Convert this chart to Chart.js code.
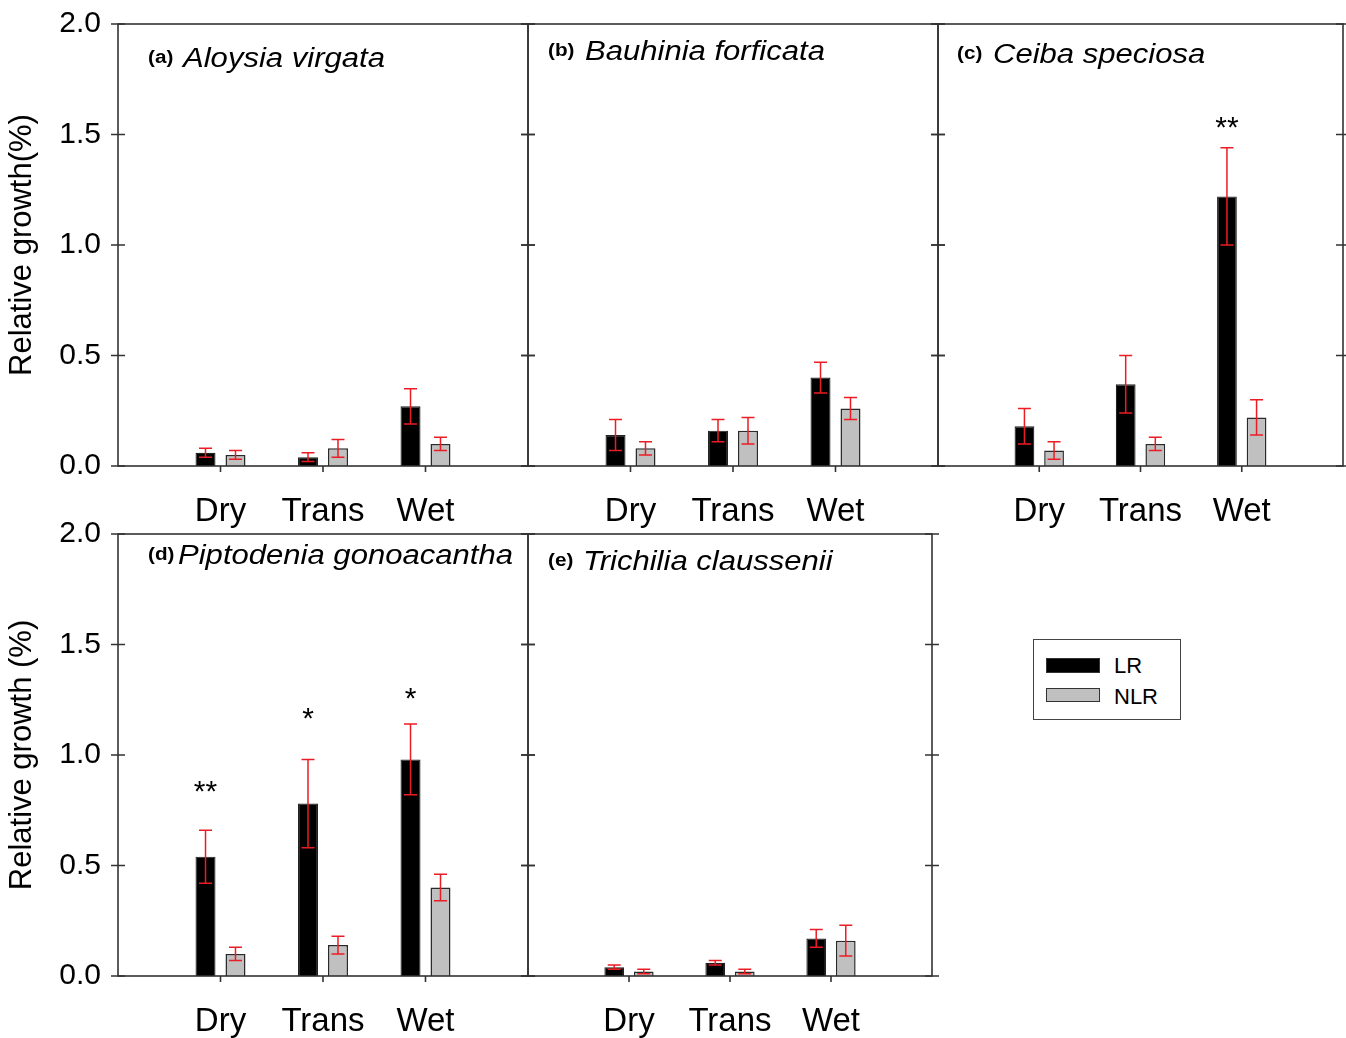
<!DOCTYPE html>
<html>
<head>
<meta charset="utf-8">
<script src="https://cdn.jsdelivr.net/npm/chart.js@4.4.0/dist/chart.umd.min.js"></script>
<style>
  html, body { margin: 0; padding: 0; background: #ffffff; }
  body { width: 1346px; height: 1038px; position: relative; overflow: hidden;
         font-family: "Liberation Sans", Arial, sans-serif; }
  canvas { position: absolute; }
  #legend { position: absolute; left: 1033px; top: 639px; width: 146px; height: 79px;
            border: 1.5px solid #444; background: #fff; }
  .sw { position: absolute; left: 12px; width: 54px; box-sizing: border-box; border: 1.2px solid #333; }
  .lt { position: absolute; left: 80px; font-size: 22px; line-height: 22px; color: #000; }
</style>
</head>
<body>
<canvas id="pa"></canvas>
<canvas id="pb"></canvas>
<canvas id="pc"></canvas>
<canvas id="pd"></canvas>
<canvas id="pe"></canvas>
<div id="legend">
  <div class="sw" style="top:18px;height:15px;background:#000;"></div>
  <div class="lt" style="top:15px;">LR</div>
  <div class="sw" style="top:48px;height:14px;background:#c0c0c0;"></div>
  <div class="lt" style="top:46px;">NLR</div>
</div>
<script>
// ---------------- DATA ----------------
const seasons = ['Dry', 'Trans', 'Wet'];
const yTickVals = [0, 0.5, 1.0, 1.5, 2.0];

// (a) Aloysia virgata
const lrA = [0.06, 0.04, 0.27];   const lrAErr = [0.02, 0.02, 0.08];
const nlrA = [0.05, 0.08, 0.10];  const nlrAErr = [0.02, 0.04, 0.03];
// (b) Bauhinia forficata
const lrB = [0.14, 0.16, 0.40];   const lrBErr = [0.07, 0.05, 0.07];
const nlrB = [0.08, 0.16, 0.26];  const nlrBErr = [0.03, 0.06, 0.05];
// (c) Ceiba speciosa
const lrC = [0.18, 0.37, 1.22];   const lrCErr = [0.08, 0.13, 0.22];
const nlrC = [0.07, 0.10, 0.22];  const nlrCErr = [0.04, 0.03, 0.08];
// (d) Piptodenia gonoacantha
const lrD = [0.54, 0.78, 0.98];   const lrDErr = [0.12, 0.20, 0.16];
const nlrD = [0.10, 0.14, 0.40];  const nlrDErr = [0.03, 0.04, 0.06];
// (e) Trichilia claussenii
const lrE = [0.04, 0.06, 0.17];   const lrEErr = [0.01, 0.01, 0.04];
const nlrE = [0.02, 0.02, 0.16];  const nlrEErr = [0.01, 0.01, 0.07];

// significance marks (text and level in data units)
const sigC = ['', '', '**'];      const sigCLevel = [null, null, 1.56];
const sigD = ['**', '*', '*'];    const sigDLevel = [0.86, 1.19, 1.28];

// ---------------- RENDERING ----------------
const FONT = '"Liberation Sans", Arial, sans-serif';
const pad = arr => [null, ...arr, null];
const xLabels = ['', ...seasons, ''];

const panelPlugin = {
  id: 'panelDeco',
  afterDatasetsDraw(chart, args, o) {
    const ctx = chart.ctx, a = chart.chartArea, y = chart.scales.y, x = chart.scales.x;
    ctx.save();
    // error bars
    chart.data.datasets.forEach((ds, i) => {
      const meta = chart.getDatasetMeta(i);
      meta.data.forEach((el, j) => {
        const v = ds.data[j];
        if (v == null) return;
        const e = ds.err[j];
        const yt = y.getPixelForValue(v + e), yb = y.getPixelForValue(Math.max(v - e, 0));
        ctx.strokeStyle = '#ec1c24';
        ctx.lineWidth = 1.5;
        ctx.beginPath();
        ctx.moveTo(el.x, yt); ctx.lineTo(el.x, yb);
        ctx.moveTo(el.x - 6.5, yt); ctx.lineTo(el.x + 6.5, yt);
        ctx.moveTo(el.x - 6.5, yb); ctx.lineTo(el.x + 6.5, yb);
        ctx.stroke();
      });
    });
    // frame
    ctx.strokeStyle = '#333';
    ctx.lineWidth = 1.6;
    ctx.strokeRect(a.left, a.top, a.right - a.left, a.bottom - a.top);
    // y ticks (crossing both edges)
    ctx.beginPath();
    yTickVals.forEach(v => {
      const py = y.getPixelForValue(v);
      ctx.moveTo(a.left - 7, py); ctx.lineTo(a.left + 7, py);
      ctx.moveTo(a.right - 7, py); ctx.lineTo(a.right + 7, py);
    });
    // x ticks at the seasons
    seasons.forEach((s, k) => {
      const px = x.getPixelForValue(k + 1);
      ctx.moveTo(px, a.bottom); ctx.lineTo(px, a.bottom + 6);
    });
    ctx.stroke();
    // significance stars
    if (o.sig) {
      const meta = chart.getDatasetMeta(0);
      ctx.fillStyle = '#000';
      ctx.font = '30px ' + FONT;
      ctx.textAlign = 'center';
      ctx.textBaseline = 'middle';
      o.sig.forEach((s, k) => {
        if (!s) return;
        const el = meta.data[k + 1];
        ctx.fillText(s, el.x, y.getPixelForValue(o.sigLevel[k]) + 7);
      });
    }
    // panel title
    const ty = a.top + o.dy;
    ctx.fillStyle = '#000';
    ctx.textAlign = 'left';
    ctx.textBaseline = 'middle';
    ctx.save();
    ctx.translate(a.left + o.dx, ty - 1);
    ctx.scale(1.15, 1);
    ctx.font = 'bold 18px ' + FONT;
    ctx.fillText(o.label, 0, 0);
    ctx.restore();
    ctx.save();
    ctx.translate(a.left + o.sdx, ty);
    ctx.scale(1.15, 1);
    ctx.font = 'italic 27px ' + FONT;
    ctx.fillText(o.species, 0, 0);
    ctx.restore();
    ctx.restore();
  }
};

function makePanel(id, cfg) {
  const cv = document.getElementById(id);
  cv.width = cfg.w; cv.height = cfg.h;
  cv.style.left = cfg.left + 'px'; cv.style.top = cfg.top + 'px';
  cv.style.width = cfg.w + 'px'; cv.style.height = cfg.h + 'px';
  return new Chart(cv, {
    type: 'bar',
    data: {
      labels: xLabels,
      datasets: [
        { label: 'LR', data: pad(cfg.lr), err: pad(cfg.lrErr),
          backgroundColor: '#000000', borderColor: '#222222', borderWidth: 1.2 },
        { label: 'NLR', data: pad(cfg.nlr), err: pad(cfg.nlrErr),
          backgroundColor: '#c0c0c0', borderColor: '#2a2a2a', borderWidth: 1.5 }
      ]
    },
    options: {
      responsive: false,
      animation: false,
      devicePixelRatio: 1,
      categoryPercentage: 0.585,
      barPercentage: 0.667,
      layout: { padding: { left: cfg.padL, right: cfg.padR, top: cfg.padT, bottom: 0 } },
      plugins: {
        legend: { display: false },
        tooltip: { enabled: false },
        panelDeco: { label: cfg.label, species: cfg.species, dx: cfg.dx, sdx: cfg.sdx, dy: cfg.dy,
                     sig: cfg.sig, sigLevel: cfg.sigLevel }
      },
      scales: {
        x: {
          type: 'category',
          offset: false,
          grid: { display: false, drawTicks: false },
          border: { display: false },
          ticks: { autoSkip: false, maxRotation: 0, minRotation: 0, padding: 26,
                   color: '#000', font: { family: FONT, size: 33 } },
          afterFit(s) { s.height = cfg.xh; }
        },
        y: {
          display: cfg.showY,
          min: 0, max: 2,
          grid: { display: false, drawTicks: false },
          border: { display: false },
          ticks: { stepSize: 0.5, padding: 17, color: '#000',
                   font: { family: FONT, size: 30 },
                   callback: v => Number(v).toFixed(1) },
          title: { display: cfg.showY, text: cfg.yTitle || '', color: '#000',
                   font: { family: FONT, size: 31 }, padding: { top: 4, bottom: 4 } },
          afterFit(s) { s.width = cfg.showY ? 118 : 0; }
        }
      }
    },
    plugins: [panelPlugin]
  });
}

// chart areas: a 118-528 x 24-466, b 528-938, c 938-1343, d 118-528 x 534-976, e 528-932
makePanel('pa', { left: 0, top: -16, w: 568, h: 556, padL: 0, padR: 40, padT: 40, xh: 74, showY: true,
  yTitle: 'Relative growth(%)', label: '(a)', species: 'Aloysia virgata', dx: 30, sdx: 65, dy: 35,
  lr: lrA, lrErr: lrAErr, nlr: nlrA, nlrErr: nlrAErr });
makePanel('pb', { left: 488, top: -16, w: 490, h: 556, padL: 40, padR: 40, padT: 40, xh: 74, showY: false,
  label: '(b)', species: 'Bauhinia forficata', dx: 20, sdx: 57, dy: 28.5,
  lr: lrB, lrErr: lrBErr, nlr: nlrB, nlrErr: nlrBErr });
makePanel('pc', { left: 898, top: -16, w: 485, h: 556, padL: 40, padR: 40, padT: 40, xh: 74, showY: false,
  label: '(c)', species: 'Ceiba speciosa', dx: 19, sdx: 55, dy: 31,
  lr: lrC, lrErr: lrCErr, nlr: nlrC, nlrErr: nlrCErr, sig: sigC, sigLevel: sigCLevel });
makePanel('pd', { left: 0, top: 494, w: 568, h: 544, padL: 0, padR: 40, padT: 40, xh: 62, showY: true,
  yTitle: 'Relative growth (%)', label: '(d)', species: 'Piptodenia gonoacantha', dx: 30, sdx: 60, dy: 22,
  lr: lrD, lrErr: lrDErr, nlr: nlrD, nlrErr: nlrDErr, sig: sigD, sigLevel: sigDLevel });
makePanel('pe', { left: 488, top: 494, w: 484, h: 544, padL: 40, padR: 40, padT: 40, xh: 62, showY: false,
  label: '(e)', species: 'Trichilia claussenii', dx: 20, sdx: 55, dy: 28,
  lr: lrE, lrErr: lrEErr, nlr: nlrE, nlrErr: nlrEErr });
</script>
</body>
</html>
